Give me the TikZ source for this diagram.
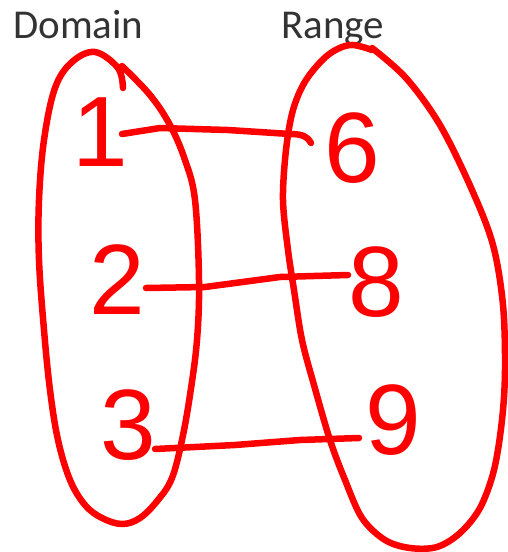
\documentclass[tikz,border=0pt]{standalone}
\usepackage{fontspec}
\setmainfont{Liberation Sans}
\newfontfamily\labelfont{Carlito}
\begin{document}
\begin{tikzpicture}[x=1pt,y=-1pt,
  pen/.style={draw=red,line width=6.5pt,line cap=round,line join=round},
  digit/.style={text=red,font=\fontsize{100}{100}\selectfont,inner sep=0pt},
  title/.style={text=black!80,font=\labelfont\fontsize{41}{41}\selectfont,inner sep=0pt,anchor=base west}]
\useasboundingbox (0,0) rectangle (508,552);
\node[title] (dom) at (13,38) {Domain};
\node[title] (ran) at (281,38) {Range};
% left oval
\draw[pen] plot[smooth,tension=0.6] coordinates {(123,88) (118,68) (95,52) (72,62) (55,88) (44,140) (39,200) (39,260) (44,330) (50,390) (58,440) (70,480) (85,505) (102,518) (122,524) (140,518) (158,500) (172,478) (182,440) (190,395) (197,340) (199,280) (195,200) (185,160) (170,125) (150,95) (122,66)};
% right oval
\draw[pen] plot[smooth,tension=0.55] coordinates {(372,50) (350,45) (328,55) (306,80) (293,110) (286,150) (283,200) (288,250) (294,290) (302,340) (314,385) (330,440) (345,480) (362,518) (385,540) (410,548) (437,547) (460,533) (480,508) (494,470) (502,420) (505,370) (503,305) (493,245) (472,190) (440,125) (406,78) (372,48)};
% numbers
\node[digit] (n1) at (100,132) {1};
\node[digit] (n2) at (117,280) {2};
\node[digit] (n3) at (128,425) {3};
\node[digit] (n6) at (352,148) {6};
\node[digit] (n8) at (376,282) {8};
\node[digit] (n9) at (393,420) {9};
% mapping lines
\coordinate (a1) at (122,134); \coordinate (b1) at (311,143);
\coordinate (a2) at (146,288); \coordinate (b2) at (348,275);
\coordinate (a3) at (155,449); \coordinate (b3) at (359,438);
\draw[pen] (a1) -- (160,128) -- (228,130) -- (290,134) .. controls (303,134) and (308,137) .. (b1);
\draw[pen] (a2) -- (205,287) -- (280,277) -- (b2);
\draw[pen] (a3) -- (235,445) -- (300,440) -- (b3);
\end{tikzpicture}
\end{document}
